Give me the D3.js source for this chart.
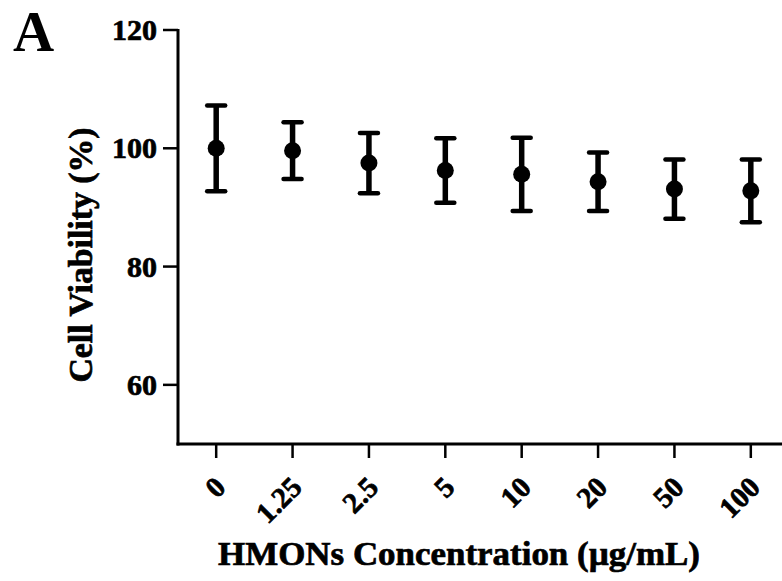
<!DOCTYPE html>
<meta charset="utf-8">
<style>
  body { margin: 0px; background: #fff; }
  text { font-family: 'Liberation Serif', 'Times New Roman', serif; font-weight: bold; fill: #000; }
  .heavy { stroke: #000; stroke-width: 0.7px; }
</style>
<body>
<svg id="chart" width="782" height="581"></svg>
<script src="https://cdn.jsdelivr.net/npm/d3@7"></script>
<script>
  // data
  var concentrations = ["0", "1.25", "2.5", "5", "10", "20", "50", "100"];
  var viability = [100.0, 99.6, 97.5, 96.25, 95.6, 94.35, 93.1, 92.8];
  var sdValues = [7.25, 4.8, 5.1, 5.45, 6.2, 4.95, 5.0, 5.3];
  var yTicks = [60, 80, 100, 120];

  var svg = d3.select("#chart");

  // plot edges (not named top/bottom, those clash with window globals)
  var plotL = 178, plotR = 789, plotT = 30, plotB = 444;

  var x = d3.scaleBand()
      .domain(concentrations)
      .range([plotL, plotR]);

  var y = d3.scaleLinear()
      .domain([50, 120])
      .range([plotB, plotT]);

  var cx = function(d) { return x(d) + x.bandwidth() / 2; };

  // axes lines
  svg.append("line")
      .attr("x1", plotL).attr("x2", plotL)
      .attr("y1", plotT - 1).attr("y2", plotB + 1.5)
      .attr("stroke", "#000").attr("stroke-width", 3);
  svg.append("line")
      .attr("x1", plotL - 1.5).attr("x2", 782)
      .attr("y1", plotB).attr("y2", plotB)
      .attr("stroke", "#000").attr("stroke-width", 3);

  // y ticks
  var yt = svg.append("g").selectAll("g")
      .data(yTicks).enter().append("g")
      .attr("transform", function(d) { return "translate(0," + y(d) + ")"; });
  yt.append("line")
      .attr("x1", 163).attr("x2", plotL)
      .attr("stroke", "#000").attr("stroke-width", 2.5);
  yt.append("text")
      .attr("class", "heavy")
      .attr("x", 157)
      .attr("dy", "0.34em")
      .attr("text-anchor", "end")
      .style("font-size", "30px")
      .text(function(d) { return d; });

  // x ticks
  var xt = svg.append("g").selectAll("g")
      .data(concentrations).enter().append("g")
      .attr("transform", function(d) { return "translate(" + cx(d) + "," + plotB + ")"; });
  xt.append("line")
      .attr("y1", 0).attr("y2", 14)
      .attr("stroke", "#000").attr("stroke-width", 2.5);
  xt.append("text")
      .attr("class", "heavy")
      .attr("transform", "translate(11,45) rotate(-45)")
      .attr("text-anchor", "end")
      .style("font-size", "29px")
      .text(function(d) { return d; });

  // error bars
  var bars = svg.append("g").selectAll("g")
      .data(concentrations).enter().append("g");
  bars.append("line")
      .attr("x1", cx).attr("x2", cx)
      .attr("y1", function(d, i) { return y(viability[i] + sdValues[i]); })
      .attr("y2", function(d, i) { return y(viability[i] - sdValues[i]); })
      .attr("stroke", "#000").attr("stroke-width", 5.5);
  bars.selectAll("line.cap")
      .data(function(d, i) { return [viability[i] + sdValues[i], viability[i] - sdValues[i]].map(function(v) { return {c: d, v: v}; }); })
      .enter().append("line")
      .attr("class", "cap")
      .attr("x1", function(d) { return cx(d.c) - 9; })
      .attr("x2", function(d) { return cx(d.c) + 9; })
      .attr("y1", function(d) { return y(d.v); })
      .attr("y2", function(d) { return y(d.v); })
      .attr("stroke", "#000").attr("stroke-width", 4.5)
      .attr("stroke-linecap", "round");
  bars.append("circle")
      .attr("cx", cx)
      .attr("cy", function(d, i) { return y(viability[i]); })
      .attr("r", 8.5)
      .attr("fill", "#000");

  // axis titles
  svg.append("text")
      .attr("class", "heavy")
      .attr("transform", "translate(92,255) rotate(-90)")
      .attr("text-anchor", "middle")
      .style("font-size", "34px")
      .attr("textLength", 255)
      .attr("lengthAdjust", "spacingAndGlyphs")
      .text("Cell Viability (%)");

  svg.append("text")
      .attr("class", "heavy")
      .attr("x", 459).attr("y", 565)
      .attr("text-anchor", "middle")
      .style("font-size", "34px")
      .attr("textLength", 482)
      .attr("lengthAdjust", "spacingAndGlyphs")
      .text("HMONs Concentration (µg/mL)");

  svg.append("text")
      .attr("x", 13).attr("y", 51)
      .style("font-size", "57px")
      .text("A");
</script>
</body>
